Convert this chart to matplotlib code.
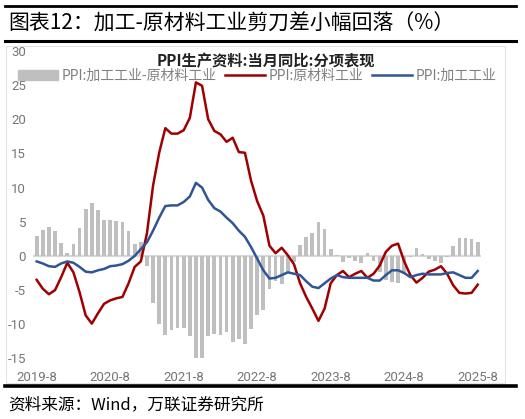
import numpy as np
import pandas as pd
import matplotlib
matplotlib.use("Agg")
import matplotlib.pyplot as plt
from matplotlib.lines import Line2D
from matplotlib.patches import Patch, Rectangle

plt.rcParams['font.family'] = ['Noto Sans CJK SC', 'DejaVu Sans']

# monthly, 2019-8 .. 2025-8
months = pd.period_range('2019-08', '2025-08', freq='M')

# PPI:原材料工业 (当月同比, %)
raw = [-3.5, -4.8, -5.6, -5.0, -3.1, -1.0, -2.4, -5.3, -8.7, -9.9, -8.4, -7.0,
       -6.5, -6.2, -6.0, -4.0, -1.6, -0.8, 3.3, 10.3, 15.1, 18.7, 17.9, 17.9,
       18.4, 20.2, 25.4, 24.9, 20.0, 18.3, 17.8, 16.7, 17.3, 15.2, 15.1, 11.0,
       8.0, 5.9, 1.5, 0.4, 1.2, 0.1, -1.2, -4.0, -6.0, -7.7, -9.5, -7.7,
       -4.0, -2.8, -2.2, -3.1, -2.6, -2.2, -3.2, -2.6, -1.4, 0.6, 1.5, 1.8,
       -0.8, -2.8, -3.9, -3.2, -2.3, -2.0, -1.5, -2.6, -4.3, -5.4, -5.5, -5.4,
       -4.2]

# PPI:加工工业 (当月同比, %)
proc = [-0.8, -1.1, -1.5, -1.6, -1.1, -0.8, -1.0, -1.6, -2.3, -2.4, -2.1, -1.9,
        -1.5, -1.4, -1.2, -0.7, 0.0, 1.0, 2.0, 3.7, 5.6, 7.3, 7.4, 7.4,
        7.9, 8.7, 10.7, 10.0, 8.2, 7.0, 6.5, 5.6, 4.8, 3.7, 2.8, 1.3,
        -0.4, -2.1, -3.3, -3.2, -2.8, -2.4, -2.6, -2.8, -3.7, -4.5, -4.7, -4.0,
        -3.3, -2.8, -3.1, -3.2, -3.2, -3.2, -3.2, -3.6, -3.6, -2.8, -2.1, -2.1,
        -2.5, -3.1, -2.8, -2.6, -2.7, -2.7, -2.7, -2.5, -2.4, -2.8, -3.2, -3.2,
        -2.2]

# PPI:加工工业-原材料工业
spread = [2.9, 3.8, 4.3, 3.6, 1.9, 0.4, 1.7, 4.1, 6.8, 7.7, 6.7, 5.3,
          5.2, 5.1, 5.0, 3.6, 1.8, 2.0, -1.4, -6.9, -10.0, -11.6, -10.9, -10.6,
          -10.6, -11.7, -14.9, -14.9, -11.7, -11.4, -11.5, -11.2, -12.6, -12.1, -12.9, -10.7,
          -8.6, -7.9, -4.9, -3.6, -4.1, -2.4, -0.9, 1.6, 2.8, 3.3, 4.9, 4.0,
          1.0, 0.1, -0.9, -0.3, -0.7, -1.1, 0.4, -0.8, -2.3, -3.5, -3.8, -4.0,
          -2.7, -0.2, 1.1, 0.3, -0.4, -0.7, -1.1, -0.2, 1.4, 2.7, 2.6, 2.5,
          2.0]

yticks = [-15, -10, -5, 0, 5, 10, 15, 20, 25, 30]
labels = ['PPI:加工工业-原材料工业', 'PPI:原材料工业', 'PPI:加工工业']
c_bar, c_raw, c_proc = '#bfbfbf', '#a00000', '#2f5597'
tick_col = '#767676'
num_font = ['Roboto', 'DejaVu Sans']

W, H = 525, 419
fig = plt.figure(figsize=(W / 100, H / 100), dpi=100)

x = np.arange(len(months))
ax = fig.add_axes([33 / W, 1 - 358.6 / H, (481.4 - 33) / W, (358.6 - 50.8) / H])
ax.tick_params(axis='both', length=0, labelsize=9.5, colors=tick_col)
ax.tick_params(axis='x', pad=9)
ax.tick_params(axis='y', pad=5)

ax.axhline(0, color='#d9d9d9', lw=1.6, zorder=0.5)
ax.bar(x, spread, width=0.6, color=c_bar, zorder=1)
ax.plot(x, raw, color=c_raw, lw=1.8, zorder=3)
ax.plot(x, proc, color=c_proc, lw=1.8, zorder=3)

ax.set_xlim(-0.6, len(months) - 0.4)
ax.set_ylim(-15.02, 30.02)
ax.set_yticks(yticks, [str(v) for v in yticks], family=num_font)
xt = x[::12]
ax.set_xticks(xt, [f"{months[i].year}-{months[i].month}" for i in xt], family=num_font)
for s in ax.spines.values():
    s.set_visible(False)

# chart frame and header / footer rules
fig.add_artist(Rectangle((6 / W, 1 - 383 / H), 499 / W, 337 / H, transform=fig.transFigure,
                         fill=False, edgecolor='#e3e3e3', lw=0.8))
for y, lw in [(6, 2.0), (41.5, 2.2), (386, 2.6)]:
    fig.add_artist(Line2D([5 / W, 516 / W], [1 - y / H] * 2, transform=fig.transFigure,
                          color='black', lw=lw))

fig.text(8 / W, 1 - 24 / H, '图表12：加工-原材料工业剪刀差小幅回落（%）',
         fontsize=15, va='center', ha='left', color='black')
fig.text(266 / W, 1 - 61 / H, 'PPI生产资料:当月同比:分项表现', fontsize=11,
         fontweight='bold', va='center', ha='center', color='#222222')
fig.text(8 / W, 1 - 405 / H, '资料来源：Wind，万联证券研究所', fontsize=12,
         va='center', ha='left', color='black')

handles = [Patch(color=c_bar), Line2D([], [], color=c_raw, lw=1.8),
           Line2D([], [], color=c_proc, lw=1.8)]
fig.legend(handles, labels, loc='center', bbox_to_anchor=(257 / W, 1 - 76 / H), ncol=3,
           frameon=False, fontsize=10, labelcolor='#808080', handlelength=2.9,
           handletextpad=0.25, columnspacing=0.6, borderaxespad=0, borderpad=0)

fig.canvas.draw()
fig.savefig('out.png', dpi=100)
